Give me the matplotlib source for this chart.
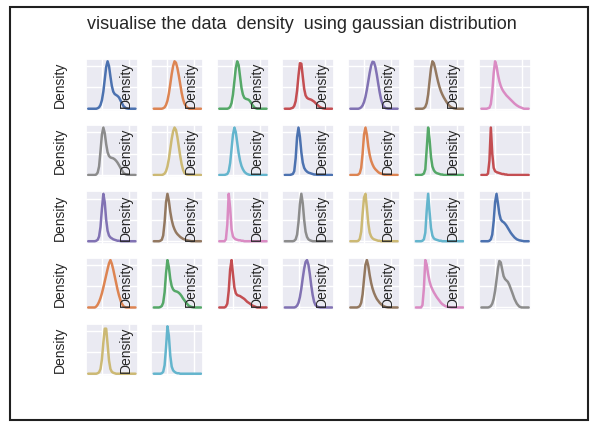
import pandas as pd
import matplotlib.pyplot as plt
import seaborn as sns
from matplotlib.patches import Rectangle

# posiciones x comunes (fracción del rango de cada variable)
x_grid = [0, .11, .14, .17, .20, .23, .26, .29, .32, .35, .38, .41, .44,
          .47, .50, .53, .56, .59, .62, .65, .70, .75, .80, .85, .90, 1.0]

# densidades (0-100, relativo al pico de cada panel)
d01 = [0, 0, 0, 0, 1, 3, 8, 18, 36, 62, 88, 100, 90, 68, 48, 36, 31, 29, 27, 24, 14, 5, 1, 0, 0, 0]
d02 = [0, 0, 0, 0, 1, 3, 8, 17, 32, 52, 73, 90, 100, 97, 86, 70, 52, 34, 20, 11, 3, 0, 0, 0, 0, 0]
d03 = [0, 0, 0, 0, 1, 4, 12, 30, 58, 86, 100, 92, 68, 44, 30, 23, 21, 20, 19, 16, 8, 2, 0, 0, 0, 0]
d04 = [0, 0, 1, 2, 6, 16, 38, 70, 96, 95, 68, 42, 28, 23, 21, 20, 19, 17, 15, 12, 7, 3, 1, 0, 0, 0]
d05 = [0, 0, 0, 0, 1, 3, 7, 14, 25, 40, 58, 76, 91, 99, 98, 88, 72, 53, 35, 20, 5, 1, 0, 0, 0, 0]
d06 = [0, 0, 0, 1, 4, 12, 30, 58, 85, 100, 96, 84, 70, 57, 46, 37, 30, 24, 19, 14, 7, 3, 1, 0, 0, 0]
d07 = [0, 0, 1, 2, 10, 35, 75, 100, 90, 72, 58, 48, 41, 36, 32, 28, 25, 22, 19, 16, 11, 7, 4, 2, 0, 0]
d08 = [0, 0, 0, 1, 5, 18, 50, 85, 100, 88, 65, 48, 40, 37, 36, 35, 33, 30, 26, 21, 12, 4, 1, 0, 0, 0]
d09 = [0, 0, 0, 0, 1, 3, 8, 18, 34, 55, 76, 92, 100, 95, 80, 60, 40, 23, 11, 4, 1, 0, 0, 0, 0, 0]
d10 = [0, 0, 1, 2, 8, 25, 55, 85, 100, 90, 68, 46, 30, 19, 12, 7, 4, 2, 1, 0, 0, 0, 0, 0, 0, 0]
d11 = [0, 0, 1, 2, 8, 35, 80, 100, 80, 48, 26, 15, 10, 7, 5, 4, 3, 2, 1, 1, 0, 0, 0, 0, 0, 0]
d12 = [0, 0, 0, 1, 4, 15, 45, 85, 100, 85, 60, 42, 30, 22, 16, 12, 9, 6, 4, 3, 1, 0, 0, 0, 0, 0]
d13 = [0, 0, 1, 3, 12, 55, 100, 75, 38, 18, 10, 6, 4, 3, 2, 1, 1, 0, 0, 0, 0, 0, 0, 0, 0, 0]
d14 = [0, 0, 3, 30, 100, 45, 15, 8, 6, 5, 4, 3, 2, 2, 1, 1, 0, 0, 0, 0, 0, 0, 0, 0, 0, 0]
d15 = [0, 0, 0, 1, 3, 10, 30, 68, 100, 82, 45, 22, 12, 8, 6, 4, 3, 2, 1, 1, 0, 0, 0, 0, 0, 0]
d16 = [0, 0, 1, 3, 12, 40, 82, 100, 85, 62, 45, 33, 25, 19, 15, 12, 9, 7, 5, 4, 2, 1, 0, 0, 0, 0]
d17 = [0, 0, 4, 35, 100, 70, 25, 10, 6, 4, 3, 2, 2, 1, 1, 0, 0, 0, 0, 0, 0, 0, 0, 0, 0, 0]
d18 = [0, 0, 0, 0, 1, 4, 14, 40, 78, 100, 80, 45, 20, 9, 4, 2, 1, 0, 0, 0, 0, 0, 0, 0, 0, 0]
d19 = [0, 0, 0, 1, 5, 20, 58, 92, 100, 70, 38, 18, 10, 6, 4, 3, 2, 1, 1, 0, 0, 0, 0, 0, 0, 0]
d20 = [0, 0, 1, 4, 18, 65, 100, 62, 28, 12, 6, 4, 3, 2, 1, 1, 0, 0, 0, 0, 0, 0, 0, 0, 0, 0]
d21 = [0, 0, 0, 1, 4, 14, 42, 82, 100, 80, 58, 46, 42, 40, 37, 33, 28, 23, 18, 14, 8, 4, 2, 1, 0, 0]
d22 = [0, 0, 0, 2, 6, 12, 20, 30, 42, 55, 68, 81, 93, 100, 92, 80, 66, 52, 38, 26, 10, 2, 0, 0, 0, 0]
d23 = [0, 0, 1, 3, 10, 32, 72, 100, 85, 60, 45, 38, 35, 34, 33, 31, 28, 24, 19, 15, 8, 3, 1, 0, 0, 0]
d24 = [0, 0, 2, 8, 35, 80, 100, 70, 42, 30, 26, 25, 24, 22, 20, 18, 15, 12, 10, 8, 4, 2, 0, 0, 0, 0]
d25 = [0, 0, 0, 0, 0, 1, 4, 10, 22, 40, 62, 82, 96, 100, 90, 70, 46, 26, 12, 5, 1, 0, 0, 0, 0, 0]
d26 = [0, 0, 0, 1, 3, 10, 28, 60, 90, 100, 88, 68, 52, 40, 31, 24, 18, 14, 10, 7, 3, 1, 0, 0, 0, 0]
d27 = [0, 0, 5, 40, 100, 90, 70, 55, 45, 38, 32, 27, 22, 18, 14, 10, 7, 5, 3, 2, 1, 0, 0, 0, 0, 0]
d28 = [0, 0, 0, 1, 3, 8, 18, 35, 58, 82, 98, 95, 80, 66, 60, 57, 54, 48, 40, 32, 18, 8, 2, 0, 0, 0]
d29 = [0, 0, 0, 0, 1, 3, 10, 30, 65, 95, 95, 62, 28, 10, 4, 2, 1, 0, 0, 0, 0, 0, 0, 0, 0, 0]
d30 = [0, 0, 0, 1, 4, 18, 55, 100, 80, 38, 15, 7, 4, 2, 1, 1, 0, 0, 0, 0, 0, 0, 0, 0, 0, 0]

densidades = [d01, d02, d03, d04, d05, d06, d07, d08, d09, d10,
              d11, d12, d13, d14, d15, d16, d17, d18, d19, d20,
              d21, d22, d23, d24, d25, d26, d27, d28, d29, d30]

titulo = "visualise the data  density  using gaussian distribution"
etiqueta_y = "Density"


def graficar_densidades():
    sns.set_theme(style="darkgrid")
    plt.rcParams['font.family'] = ['Liberation Sans', 'DejaVu Sans']
    colores = sns.color_palette("deep", 10)

    fig, axes = plt.subplots(5, 7, figsize=(5.92, 4.24), dpi=100)
    fig.patch.set_facecolor('white')
    fig.subplots_adjust(left=0.145, right=0.897, top=0.861, bottom=0.113,
                        wspace=0.26, hspace=0.27)

    for i, ax in enumerate(axes.flat):
        if i >= len(densidades):
            ax.axis('off')
            continue
        ax.plot(x_grid, densidades[i], color=colores[i % 10], lw=1.8)
        ax.set_ylim(-5, 105)
        ax.set_xticks([0.29, 0.86])
        ax.set_yticks([0, 45, 90])
        ax.tick_params(labelbottom=False, labelleft=False, length=0)
        ax.set_ylabel(etiqueta_y, fontsize=10, color='#262626')
        ax.yaxis.set_label_coords(-0.36, 0.5)

    fig.text(0.51, 0.943, titulo, ha='center', va='center',
             fontsize=13, color='#262626')

    # marco de la captura original
    fig.patches.append(Rectangle((10 / 592, 1 - 420 / 424), 578 / 592, 413 / 424,
                                 transform=fig.transFigure, fill=False,
                                 lw=1.5, ec='#202020'))

    fig.savefig("out.png", dpi=100)


if __name__ == "__main__":
    graficar_densidades()
